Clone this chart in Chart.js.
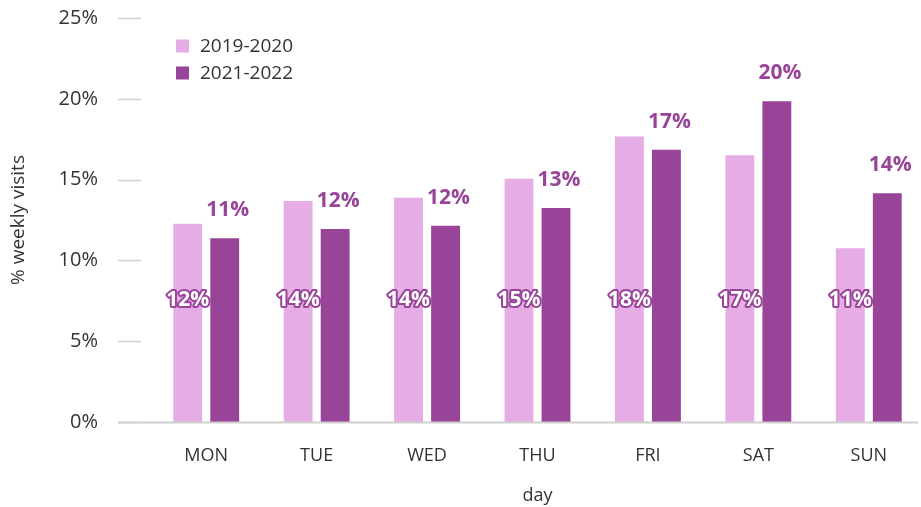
<!DOCTYPE html>
<html>
<head>
<meta charset="utf-8">
<script src="https://cdn.jsdelivr.net/npm/chart.js@4.4.1/dist/chart.umd.min.js"></script>
<style>
  html, body { margin: 0; padding: 0; background: #fff; overflow: hidden; width: 921px; height: 507px; }
  #wrap { width: 924px; height: 507px; position: relative; }
</style>
</head>
<body>
<div id="wrap"><canvas id="c"></canvas></div>
<script>
const categories = ['MON', 'TUE', 'WED', 'THU', 'FRI', 'SAT', 'SUN'];
const seriesNames = ['2019-2020', '2021-2022'];
const values2019 = [12.27, 13.68, 13.88, 15.06, 17.66, 16.5, 10.75];
const values2021 = [11.37, 11.94, 12.15, 13.24, 16.85, 19.85, 14.15];
const yTicks = [0, 5, 10, 15, 20, 25];

const PINK = '#e6ace5';
const PURPLE = '#984498';
const TEXT = '#333333';
const GRIDC = '#cfcfcf';
const FONT = '"Open Sans", sans-serif';

const decor = {
  id: 'decor',
  afterDatasetsDraw(chart) {
    const ctx = chart.ctx;
    const y = chart.scales.y;
    ctx.save();
    // y tick marks
    ctx.strokeStyle = GRIDC;
    ctx.lineWidth = 1.5;
    yTicks.forEach(v => {
      const py = Math.round(y.getPixelForValue(v)) + 0.5;
      ctx.beginPath();
      ctx.moveTo(118, py);
      ctx.lineTo(141, py);
      ctx.stroke();
    });
    // baseline
    const by = y.getPixelForValue(0) + 0.5;
    ctx.lineWidth = 2;
    ctx.beginPath();
    ctx.moveTo(118, by);
    ctx.lineTo(918, by);
    ctx.stroke();

    // data labels
    ctx.font = 'bold 21px ' + FONT;
    ctx.textAlign = 'center';
    ctx.textBaseline = 'middle';
    const m0 = chart.getDatasetMeta(0);
    const m1 = chart.getDatasetMeta(1);
    m0.data.forEach((el, i) => {
      const t = Math.round(values2019[i]) + '%';
      const py = y.getPixelForValue(0) - 122;
      ctx.lineJoin = 'round';
      ctx.lineWidth = 4;
      ctx.strokeStyle = PURPLE;
      ctx.strokeText(t, el.x, py);
      ctx.fillStyle = '#ffffff';
      ctx.fillText(t, el.x, py);
    });
    m1.data.forEach((el, i) => {
      const t = Math.round(values2021[i]) + '%';
      ctx.fillStyle = PURPLE;
      ctx.fillText(t, el.x + 3, el.y - 28);
    });

    // legend
    const items = [[seriesNames[0], PINK, 46], [seriesNames[1], PURPLE, 73]];
    ctx.font = '19px ' + FONT;
    ctx.textAlign = 'left';
    items.forEach(([name, col, cy]) => {
      ctx.fillStyle = col;
      ctx.fillRect(176, cy - 6.5, 13, 13);
      ctx.fillStyle = TEXT;
      ctx.fillText(name, 200, cy + 1);
    });
    ctx.restore();
  }
};

new Chart(document.getElementById('c'), {
  type: 'bar',
  data: {
    labels: categories,
    datasets: [
      { label: seriesNames[0], data: values2019, backgroundColor: PINK, borderWidth: 0 },
      { label: seriesNames[1], data: values2021, backgroundColor: PURPLE, borderWidth: 0 }
    ]
  },
  options: {
    responsive: true,
    maintainAspectRatio: false,
    animation: false,
    devicePixelRatio: 1,
    layout: { padding: { top: 18, left: 0, right: 0, bottom: 0 } },
    plugins: { legend: { display: false }, tooltip: { enabled: false } },
    datasets: { bar: { categoryPercentage: 0.67, barPercentage: 0.78 } },
    scales: {
      x: {
        grid: { display: false },
        border: { display: false },
        ticks: { color: TEXT, font: { family: FONT, size: 18 }, padding: 15 },
        title: { display: true, text: 'day', color: TEXT, font: { family: FONT, size: 18 }, padding: { top: 0, bottom: 0 } },
        afterFit(s) { s.height = 85; s.paddingLeft = 0; s.paddingRight = 0; }
      },
      y: {
        min: 0, max: 25,
        grid: { display: false },
        border: { display: false },
        afterBuildTicks(s) { s.ticks = yTicks.map(v => ({ value: v })); },
        ticks: { color: TEXT, font: { family: FONT, size: 20 }, padding: 45, callback: v => v + '%' },
        title: { display: true, text: '% weekly visits', color: TEXT, font: { family: FONT, size: 19 }, padding: { top: 7, bottom: 0 } },
        afterFit(s) { s.width = 151; s.paddingTop = 0; s.paddingBottom = 0; }
      }
    }
  },
  plugins: [decor]
});
</script>
</body>
</html>
